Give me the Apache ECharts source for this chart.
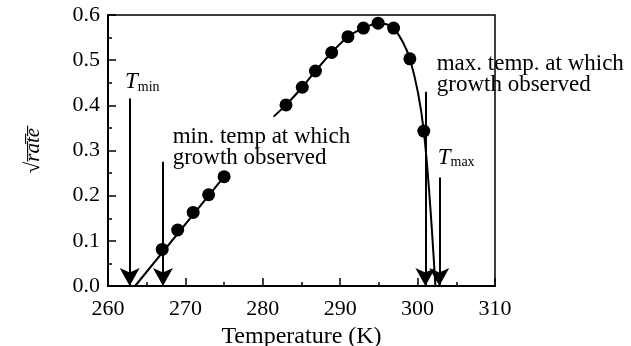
<!DOCTYPE html>
<html>
<head>
<meta charset="utf-8">
<script src="https://cdn.jsdelivr.net/npm/echarts@6/dist/echarts.min.js"></script>
<style>
  html, body { margin: 0; padding: 0; background: #fff; }
  #chart { width: 631px; height: 346px; }
</style>
</head>
<body>
<div id="chart"></div>
<script>
var chart = echarts.init(document.getElementById('chart'));

// measured points (temperature K, sqrt rate)
var lowTemps = [267, 269, 271, 273, 275];
var lowRates = [0.081, 0.124, 0.163, 0.202, 0.242];
var highTemps = [283, 285.1, 286.8, 288.9, 291, 293, 294.9, 296.9, 299, 300.8];
var highRates = [0.401, 0.440, 0.476, 0.517, 0.552, 0.571, 0.582, 0.571, 0.503, 0.343];

// fitted lines
var lowFit = [[263.5, 0], [275, 0.242]];
var highFit = [[281.4, 0.375], [283, 0.401], [285.1, 0.440], [286.8, 0.476], [288.9, 0.517],
    [291, 0.552], [293, 0.571], [294.9, 0.582], [296.9, 0.571], [299, 0.503], [300.8, 0.343], [302.3, 0]];

// arrows: x, start value
var arrows = [[262.8, 0.415], [267.1, 0.275], [301.0, 0.43], [302.8, 0.24]];

var serif = 'Liberation Serif';

function pts(xs, ys) {
    var out = [];
    for (var i = 0; i < xs.length; i++) out.push([xs[i], ys[i]]);
    return out;
}

var arrowLines = arrows.map(function (a) {
    return [{ coord: [a[0], a[1]] }, { coord: [a[0], 0] }];
});

var option = {
    animation: false,
    grid: { left: 108, right: 136, top: 15, bottom: 60, outerBoundsMode: 'none',
        show: true, borderColor: '#000', borderWidth: 1.5 },
    xAxis: {
        type: 'value', min: 260, max: 310, interval: 10,
        name: 'Temperature (K)', nameLocation: 'middle', nameGap: 37,
        nameTextStyle: { fontFamily: serif, fontSize: 24, color: '#000' },
        axisLine: { lineStyle: { color: '#000', width: 2 } },
        axisTick: { inside: true, length: 8, lineStyle: { color: '#000', width: 1.5 } },
        minorTick: { show: true, splitNumber: 2, length: 4, lineStyle: { color: '#000', width: 1.5 } },
        axisLabel: { fontFamily: serif, fontSize: 22, color: '#000', margin: 12 },
        splitLine: { show: false }
    },
    yAxis: {
        type: 'value', min: 0, max: 0.6, interval: 0.1,
        name: '√r\u0305a\u0305t\u0305e\u0305', nameLocation: 'middle', nameGap: 64, nameRotate: 90,
        nameTextStyle: { fontFamily: serif, fontSize: 21, fontStyle: 'italic', color: '#000' },
        axisLine: { lineStyle: { color: '#000', width: 2 } },
        axisTick: { inside: true, length: 8, lineStyle: { color: '#000', width: 1.5 } },
        minorTick: { show: true, splitNumber: 2, length: 4, lineStyle: { color: '#000', width: 1.5 } },
        axisLabel: { fontFamily: serif, fontSize: 22, color: '#000', margin: 8,
            formatter: function (v) { return v.toFixed(1); } },
        splitLine: { show: false }
    },
    series: [
        {
            type: 'line', data: lowFit, showSymbol: false, symbol: 'none',
            lineStyle: { color: '#000', width: 2 }
        },
        {
            type: 'line', data: highFit, showSymbol: false, symbol: 'none', smooth: 0.3,
            lineStyle: { color: '#000', width: 2 },
            markLine: {
                silent: true, symbol: ['none', 'arrow'], symbolSize: [15, 18],
                lineStyle: { color: '#000', width: 2, type: 'solid' },
                label: { show: false },
                data: arrowLines
            }
        },
        {
            type: 'scatter', data: pts(lowTemps, lowRates).concat(pts(highTemps, highRates)),
            symbolSize: 13, itemStyle: { color: '#000', opacity: 1 }
        },
        {
            type: 'scatter', symbolSize: 0, silent: true,
            itemStyle: { opacity: 1 },
            label: {
                show: true, position: 'right', distance: 0, align: 'left', verticalAlign: 'middle',
                fontFamily: serif, fontSize: 23, color: '#000', lineHeight: 21,
                formatter: function (p) { return p.data.text; },
                rich: {
                    t: { fontFamily: serif, fontSize: 23, fontStyle: 'italic', color: '#000' },
                    s: { fontFamily: serif, fontSize: 14, color: '#000', padding: [10, 0, 0, 0] }
                }
            },
            data: [
                { value: [262.2, 0.452], text: '{t|T}{s|min}' },
                { value: [268.35, 0.306], text: 'min. temp at which\ngrowth observed' },
                { value: [302.47, 0.468], text: 'max. temp. at which\ngrowth observed' },
                { value: [302.6, 0.284], text: '{t|T}{s|max}' }
            ]
        }
    ]
};

chart.setOption(option);
</script>
</body>
</html>
